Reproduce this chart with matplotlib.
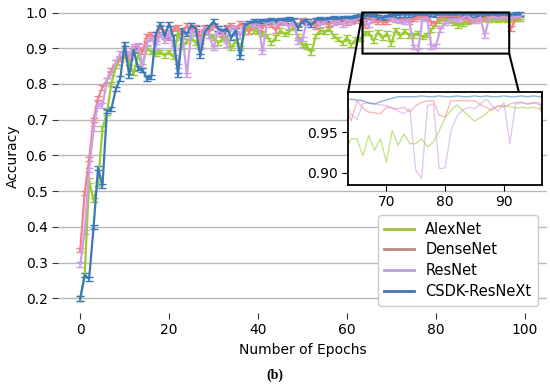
import matplotlib.pyplot as plt
from matplotlib.lines import Line2D

epochs = list(range(100))

alexnet = [0.200, 0.265, 0.530, 0.475, 0.520, 0.675, 0.720, 0.800, 0.850, 0.870,
           0.880, 0.860, 0.830, 0.880, 0.850, 0.900, 0.890, 0.885, 0.890, 0.880,
           0.890, 0.875, 0.945, 0.905, 0.920, 0.930, 0.915, 0.910, 0.945, 0.935,
           0.930, 0.915, 0.925, 0.930, 0.900, 0.920, 0.900, 0.945, 0.963, 0.950,
           0.945, 0.940, 0.935, 0.915, 0.930, 0.950, 0.940, 0.945, 0.960, 0.935,
           0.910, 0.905, 0.888, 0.935, 0.950, 0.945, 0.955, 0.935, 0.925, 0.915,
           0.930, 0.910, 0.925, 0.925, 0.942, 0.942, 0.921, 0.946, 0.928, 0.942,
           0.913, 0.952, 0.934, 0.948, 0.936, 0.936, 0.942, 0.932, 0.938, 0.952,
           0.968, 0.977, 0.984, 0.977, 0.970, 0.964, 0.968, 0.973, 0.980, 0.982,
           0.983, 0.982, 0.980, 0.981, 0.980, 0.981, 0.979, 0.980, 0.981, 0.982]

densenet = [0.335, 0.495, 0.590, 0.700, 0.760, 0.790, 0.810, 0.840, 0.860, 0.870,
            0.885, 0.875, 0.900, 0.905, 0.890, 0.935, 0.940, 0.925, 0.960, 0.945,
            0.930, 0.955, 0.960, 0.935, 0.965, 0.950, 0.960, 0.930, 0.960, 0.945,
            0.965, 0.955, 0.940, 0.960, 0.965, 0.950, 0.970, 0.960, 0.945, 0.965,
            0.970, 0.955, 0.975, 0.965, 0.950, 0.970, 0.975, 0.960, 0.975, 0.965,
            0.980, 0.970, 0.975, 0.960, 0.978, 0.975, 0.965, 0.980, 0.975, 0.982,
            0.970, 0.980, 0.978, 0.985, 0.964, 0.989, 0.980, 0.975, 0.974, 0.973,
            0.981, 0.980, 0.979, 0.981, 0.975, 0.983, 0.987, 0.989, 0.989, 0.971,
            0.969, 0.989, 0.989, 0.989, 0.989, 0.989, 0.984, 0.981, 0.977, 0.983,
            0.981, 0.985, 0.987, 0.987, 0.985, 0.986, 0.987, 0.955, 0.985, 0.988]

resnet = [0.295, 0.385, 0.560, 0.675, 0.745, 0.740, 0.810, 0.830, 0.860, 0.885,
          0.895, 0.880, 0.905, 0.910, 0.850, 0.915, 0.930, 0.905, 0.940, 0.920,
          0.945, 0.900, 0.850, 0.935, 0.825, 0.950, 0.940, 0.905, 0.955, 0.935,
          0.900, 0.950, 0.945, 0.910, 0.960, 0.955, 0.935, 0.965, 0.970, 0.960,
          0.975, 0.890, 0.970, 0.975, 0.965, 0.975, 0.970, 0.960, 0.975, 0.918,
          0.925, 0.975, 0.970, 0.978, 0.965, 0.975, 0.980, 0.970, 0.978, 0.965,
          0.980, 0.975, 0.982, 0.990, 0.972, 0.966, 0.985, 0.987, 0.985, 0.984,
          0.983, 0.980, 0.976, 0.973, 0.979, 0.903, 0.893, 0.983, 0.985, 0.905,
          0.906, 0.952, 0.970, 0.978, 0.981, 0.979, 0.985, 0.991, 0.983, 0.976,
          0.987, 0.936, 0.985, 0.987, 0.985, 0.987, 0.984, 0.986, 0.987, 0.988]

csdk = [0.200, 0.265, 0.255, 0.400, 0.565, 0.515, 0.725, 0.730, 0.785, 0.815,
        0.912, 0.823, 0.895, 0.845, 0.840, 0.815, 0.820, 0.940, 0.968, 0.935,
        0.968, 0.930, 0.825, 0.950, 0.940, 0.965, 0.955, 0.878, 0.945, 0.960,
        0.975, 0.955, 0.948, 0.955, 0.930, 0.950, 0.875, 0.965, 0.970, 0.975,
        0.972, 0.976, 0.975, 0.978, 0.977, 0.980, 0.978, 0.981, 0.978, 0.957,
        0.977, 0.975, 0.966, 0.979, 0.981, 0.980, 0.982, 0.983, 0.982, 0.984,
        0.985, 0.984, 0.986, 0.990, 0.991, 0.990, 0.989, 0.986, 0.985, 0.988,
        0.990, 0.992, 0.994, 0.994, 0.994, 0.994, 0.995, 0.994, 0.994, 0.995,
        0.994, 0.994, 0.995, 0.994, 0.994, 0.995, 0.994, 0.995, 0.994, 0.994,
        0.995, 0.994, 0.994, 0.995, 0.994, 0.995, 0.994, 0.994, 0.995, 0.995]

names = ['AlexNet', 'DenseNet', 'ResNet', 'CSDK-ResNeXt']
series = [alexnet, densenet, resnet, csdk]
err = 0.006

line_colors = ['#99cc33', '#f2828a', '#cc9fe6', '#3a79b7']
legend_colors = ['#9ac43c', '#b88c80', '#b9a2db', '#4a6fb5']

fig = plt.figure(figsize=(5.5, 3.86), dpi=100)
ax = fig.add_axes([0.1055, 0.19, 0.889, 0.81])

for y, c in zip(series, line_colors):
    ax.errorbar(epochs, y, yerr=err, color=c, lw=1.6, capsize=3, elinewidth=1.2)

ax.set_xlim(-5, 105)
ax.set_ylim(0.16, 1.035)
ax.set_xticks([0, 20, 40, 60, 80, 100])
ax.set_yticks([0.2, 0.3, 0.4, 0.5, 0.6, 0.7, 0.8, 0.9, 1.0])
ax.yaxis.grid(True, color='#b8b8b8', lw=1)
ax.set_axisbelow(True)
for s in ax.spines.values():
    s.set_visible(False)
ax.tick_params(labelsize=10, length=4, color='#333333')
ax.set_xlabel('Number of Epochs', fontsize=10)
ax.set_ylabel('Accuracy', fontsize=10)

# zoomed inset
axins = fig.add_axes([0.633, 0.521, 0.3527, 0.241])
for y, c in zip(series, line_colors):
    axins.plot(epochs, y, color=c, lw=1.0, alpha=0.55)
axins.set_xlim(63.5, 96.5)
axins.set_ylim(0.885, 1.0)
axins.set_xticks([70, 80, 90])
axins.set_yticks([0.90, 0.95])
axins.tick_params(labelsize=10, length=4)
for s in axins.spines.values():
    s.set_color('black')
    s.set_linewidth(1.3)
ax.indicate_inset_zoom(axins, edgecolor='black', alpha=1, lw=1.5)

handles = [Line2D([], [], color=c, lw=2) for c in legend_colors]
fig.legend(handles, names, loc='lower left', bbox_to_anchor=(0.687, 0.208),
           borderaxespad=0, fontsize=10.5, labelspacing=0.4, borderpad=0.45,
           framealpha=1, edgecolor='#cccccc')

fig.text(0.5, 0.018, '(b)', fontsize=10, family='Liberation Serif', ha='center',
         fontweight='bold')

fig.savefig('out.png', dpi=100)
